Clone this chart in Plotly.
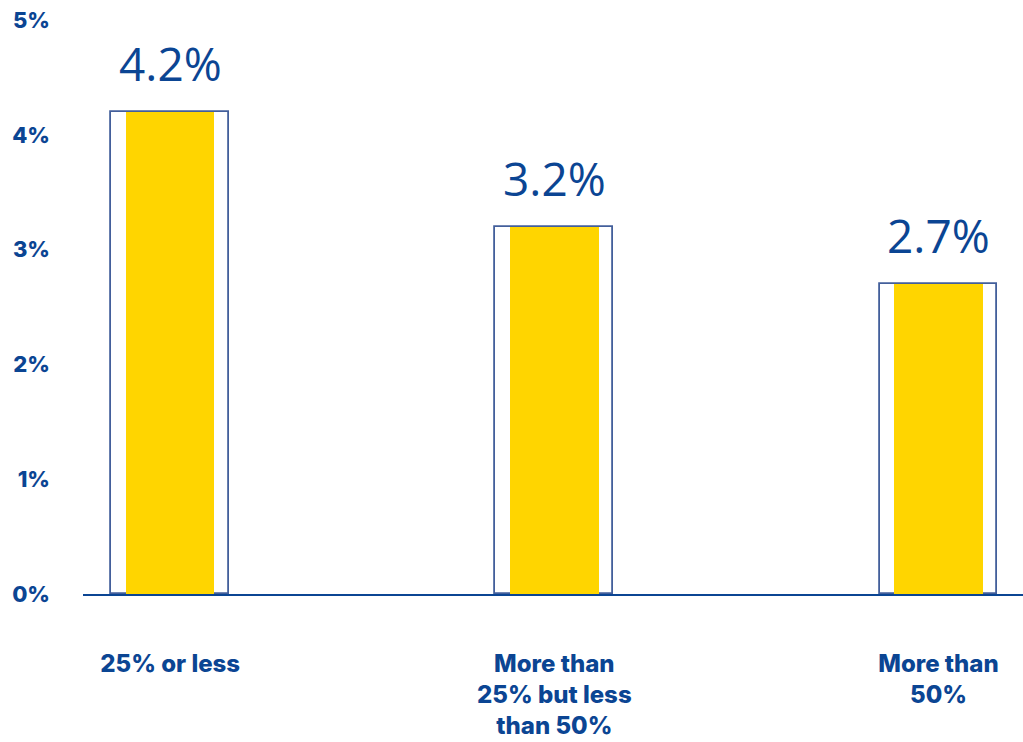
import plotly.graph_objects as go

# Share of respondents by category
categories = ["25% or less", "More than<br>25% but less<br>than 50%", "More than<br>50%"]
values = [4.2, 3.2, 2.7]
value_labels = ["4.2%", "3.2%", "2.7%"]
y_ticks = [0, 1, 2, 3, 4, 5]
y_tick_labels = ["0%", "1%", "2%", "3%", "4%", "5%"]

NAVY = "#0B4593"
YELLOW = "#FFD500"
x_pos = list(range(len(categories)))

fig = go.Figure()

# Outline frame around each bar
fig.add_trace(go.Bar(
    x=x_pos, y=values, width=0.307,
    marker=dict(color="white", line=dict(color="rgba(20,55,130,0.8)", width=1.8)),
    hoverinfo="skip", showlegend=False,
))
# Yellow fill bar
fig.add_trace(go.Bar(
    x=x_pos, y=values, width=0.23,
    marker=dict(color=YELLOW, line=dict(width=0)),
    showlegend=False,
))

for xp, v, lab in zip(x_pos, values, value_labels):
    fig.add_annotation(
        x=xp, y=v, text=lab, showarrow=False, yanchor="bottom", yshift=16,
        font=dict(family="Open Sans", size=46, color=NAVY),
    )

fig.update_layout(
    width=1023, height=742,
    margin=dict(l=83, r=0, t=20, b=148),
    paper_bgcolor="white", plot_bgcolor="white",
    barmode="overlay", bargap=0,
    font=dict(family="Inter", color=NAVY),
)
fig.update_xaxes(
    range=[-0.227, 2.22], tickvals=x_pos, ticktext=categories,
    showgrid=False, zeroline=False, showline=True, linecolor=NAVY, linewidth=2,
    ticks="", ticklabelstandoff=47,
    tickfont=dict(family="Inter", size=24, color=NAVY, weight=800),
)
fig.update_yaxes(
    range=[0, 5], tickvals=y_ticks, ticktext=y_tick_labels,
    showgrid=False, zeroline=False, showline=False, ticks="",
    ticklabelstandoff=32,
    tickfont=dict(family="Inter", size=22, color=NAVY, weight=800),
)

fig.write_html("out.html")
